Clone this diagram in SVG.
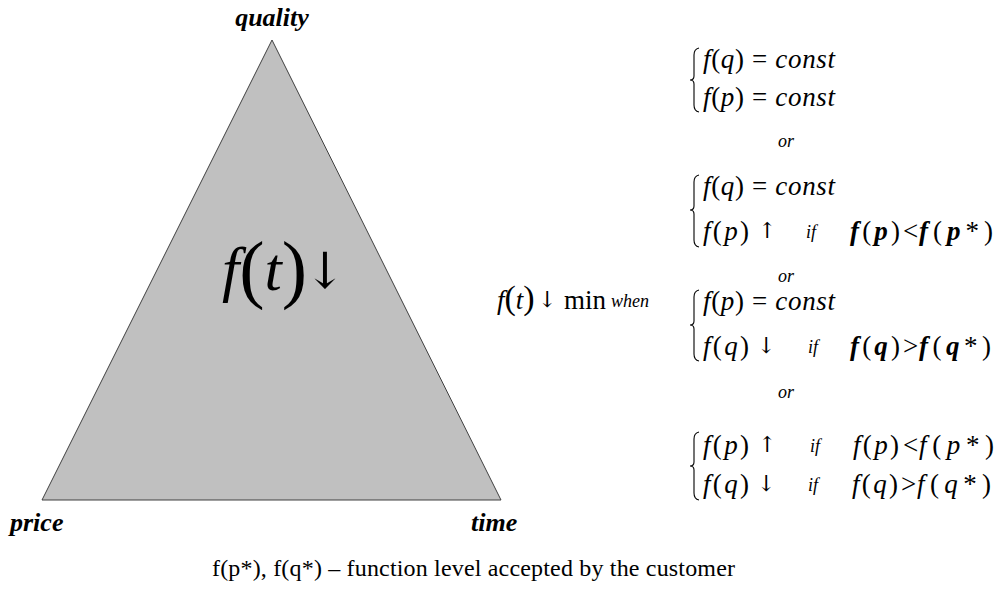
<svg xmlns="http://www.w3.org/2000/svg" width="998" height="595" viewBox="0 0 998 595">
<style>
text{font-family:"Liberation Serif","Times New Roman",serif;fill:#000}
.lbl{font-size:26px;font-weight:bold;font-style:italic}
.eq{font-size:27px}
.i{font-style:italic}
.bi{font-style:italic;font-weight:bold}
.ar{font-family:"DejaVu Serif",serif}
.sm{font-size:18px;font-style:italic}
.brace{fill:none;stroke:#000;stroke-width:1.1}
.foot{font-size:24px}
</style>
<rect width="998" height="595" fill="#fff"/>
<g id="triangle">
<polygon points="272,40 42,500 501,500" fill="#c0c0c0" stroke="#404040" stroke-width="1"/>
<text x="222" y="290" font-size="62"><tspan class="i">f</tspan><tspan font-size="76" dy="4">(</tspan><tspan class="i" dy="-4">t</tspan><tspan font-size="76" dy="4">)</tspan></text>
<text x="304" y="288" class="ar" font-size="50">↓</text>
</g>
<g id="quality"><text class="lbl" x="272" y="26" text-anchor="middle">quality</text></g>
<g id="price"><text class="lbl" x="10" y="531">price</text></g>
<g id="time"><text class="lbl" x="471" y="531">time</text></g>
<g id="conditions">
<text x="497" y="309" class="eq" font-size="30"><tspan class="i">f</tspan><tspan font-size="34">(</tspan><tspan class="i">t</tspan><tspan font-size="34">)</tspan></text>
<text x="538" y="307" class="ar" font-size="22">↓</text>
<text x="564" y="309" class="eq" font-size="25">min</text>
<text x="611" y="307" class="sm">when</text>
<!-- block 1 -->
<path class="brace" d="M699,48 Q694,49 694,55 L694,76 Q694,80 690,80 Q694,80 694,84 L694,105 Q694,111 699,112"/>
<text x="703" y="68" class="eq" textLength="132" lengthAdjust="spacing"><tspan class="i">f</tspan>(<tspan class="i">q</tspan>) = <tspan class="i">const</tspan></text>
<text x="703" y="106" class="eq" textLength="132" lengthAdjust="spacing"><tspan class="i">f</tspan>(<tspan class="i">p</tspan>) = <tspan class="i">const</tspan></text>
<text x="778" y="147" class="sm">or</text>
<!-- block 2 -->
<path class="brace" d="M699,175 Q694,176 694,182 L694,206 Q694,210 690,210 Q694,210 694,214 L694,240 Q694,246 699,247"/>
<text x="703" y="195" class="eq" textLength="132" lengthAdjust="spacing"><tspan class="i">f</tspan>(<tspan class="i">q</tspan>) = <tspan class="i">const</tspan></text>
<text x="703" y="240" class="eq" textLength="46" lengthAdjust="spacing"><tspan class="i">f</tspan>(<tspan class="i">p</tspan>)</text>
<text x="758" y="238" class="ar" font-size="22">↑</text>
<text x="806" y="238" class="sm">if</text>
<text x="850" y="240" class="eq" font-size="28" textLength="50" lengthAdjust="spacing"><tspan class="bi">f</tspan>(<tspan class="bi">p</tspan>)</text>
<text x="903" y="240" class="eq" font-size="24">&lt;</text>
<text x="919" y="240" class="eq" font-size="28" textLength="74" lengthAdjust="spacing"><tspan class="bi">f</tspan>(<tspan class="bi">p</tspan>*)</text>
<text x="778" y="282" class="sm">or</text>
<!-- block 3 -->
<path class="brace" d="M699,290 Q694,291 694,297 L694,321 Q694,325 690,325 Q694,325 694,329 L694,354 Q694,360 699,361"/>
<text x="703" y="310" class="eq" textLength="132" lengthAdjust="spacing"><tspan class="i">f</tspan>(<tspan class="i">p</tspan>) = <tspan class="i">const</tspan></text>
<text x="703" y="355" class="eq" textLength="46" lengthAdjust="spacing"><tspan class="i">f</tspan>(<tspan class="i">q</tspan>)</text>
<text x="757" y="353" class="ar" font-size="22">↓</text>
<text x="808" y="353" class="sm">if</text>
<text x="850" y="355" class="eq" font-size="28" textLength="50" lengthAdjust="spacing"><tspan class="bi">f</tspan>(<tspan class="bi">q</tspan>)</text>
<text x="903" y="355" class="eq" font-size="24">&gt;</text>
<text x="919" y="355" class="eq" font-size="28" textLength="72" lengthAdjust="spacing"><tspan class="bi">f</tspan>(<tspan class="bi">q</tspan>*)</text>
<text x="778" y="398" class="sm">or</text>
<!-- block 4 -->
<path class="brace" d="M699,432 Q694,433 694,439 L694,462 Q694,466 690,466 Q694,466 694,470 L694,493 Q694,499 699,500"/>
<text x="703" y="454" class="eq" textLength="46" lengthAdjust="spacing"><tspan class="i">f</tspan>(<tspan class="i">p</tspan>)</text>
<text x="758" y="452" class="ar" font-size="22">↑</text>
<text x="810" y="452" class="sm">if</text>
<text x="853" y="454" class="eq" textLength="46" lengthAdjust="spacing"><tspan class="i">f</tspan>(<tspan class="i">p</tspan>)</text>
<text x="903" y="454" class="eq" font-size="24">&lt;</text>
<text x="919" y="454" class="eq" textLength="75" lengthAdjust="spacing"><tspan class="i">f</tspan>(<tspan class="i">p</tspan>*)</text>
<text x="703" y="493" class="eq" textLength="46" lengthAdjust="spacing"><tspan class="i">f</tspan>(<tspan class="i">q</tspan>)</text>
<text x="757" y="491" class="ar" font-size="22">↓</text>
<text x="808" y="491" class="sm">if</text>
<text x="852" y="493" class="eq" textLength="46" lengthAdjust="spacing"><tspan class="i">f</tspan>(<tspan class="i">q</tspan>)</text>
<text x="901" y="493" class="eq" font-size="24">&gt;</text>
<text x="917" y="493" class="eq" textLength="74" lengthAdjust="spacing"><tspan class="i">f</tspan>(<tspan class="i">q</tspan>*)</text>
</g>
<g id="footnote"><text x="212" y="576" class="foot" textLength="523" lengthAdjust="spacing">f(p*), f(q*) – function level accepted by the customer</text></g>
</svg>
